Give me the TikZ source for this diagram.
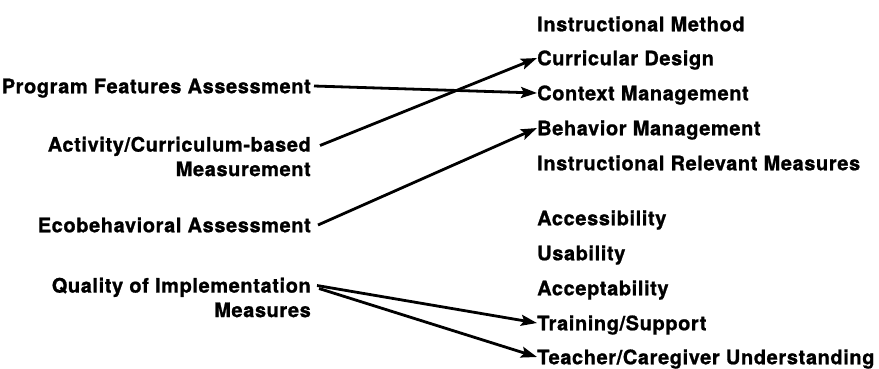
\documentclass[tikz,border=0pt]{standalone}
\usepackage{fontspec}
\setmainfont{TeX Gyre Heros}[LetterSpace=3,BoldFeatures={FakeBold=1}]
\usetikzlibrary{arrows.meta}

\begin{document}
\begin{tikzpicture}[x=1pt,y=-1pt,
	item/.style={font=\bfseries\fontsize{20}{24.5}\selectfont,inner sep=0pt,text height=14.5pt,text depth=0pt},
	src/.style={font=\bfseries\fontsize{20}{24.5}\selectfont,inner sep=0pt,align=right,anchor=north east},
	link/.style={line width=2.8pt,-{Stealth[length=16pt,width=11pt,inset=3pt]}}]
	\useasboundingbox (0,0) rectangle (879,368);
	\node[item,anchor=west] (im) at (537,24) {Instructional Method};
	\node[item,anchor=west] (cd) at (537,58) {Curricular Design};
	\node[item,anchor=west] (cm) at (537,93) {Context Management};
	\node[item,anchor=west] (bm) at (537,128) {Behavior Management};
	\node[item,anchor=west] (irm) at (537,163) {Instructional Relevant Measures};
	\node[item,anchor=west] (acc) at (537,218) {Accessibility};
	\node[item,anchor=west] (usa) at (537,253) {Usability};
	\node[item,anchor=west] (acp) at (537,288) {Acceptability};
	\node[item,anchor=west] (ts) at (537,323) {Training/Support};
	\node[item,anchor=west] (tcu) at (537,357) {Teacher/Caregiver Understanding};
	\node[item,anchor=east] (pfa) at (311,86) {Program Features Assessment};
	\node[src] (acbm) at (311,136.5) {Activity/Curriculum-based\\Measurement};
	\node[item,anchor=east] (eba) at (311,225) {Ecobehavioral Assessment};
	\node[src] (qim) at (311,277.5) {Quality of Implementation\\Measures};
	\draw[link] ([xshift=3pt]pfa.east) -- (cm.west);
	\draw[link] ([shift={(9pt,-9pt)}]acbm.north east) -- (cd.west);
	\draw[link] ([xshift=7pt]eba.east) -- (bm.west);
	\draw[link] ([shift={(6pt,-8pt)}]qim.north east) -- (ts.west);
	\draw[link] ([shift={(8pt,-11pt)}]qim.north east) -- (tcu.west);
\end{tikzpicture}
\end{document}
